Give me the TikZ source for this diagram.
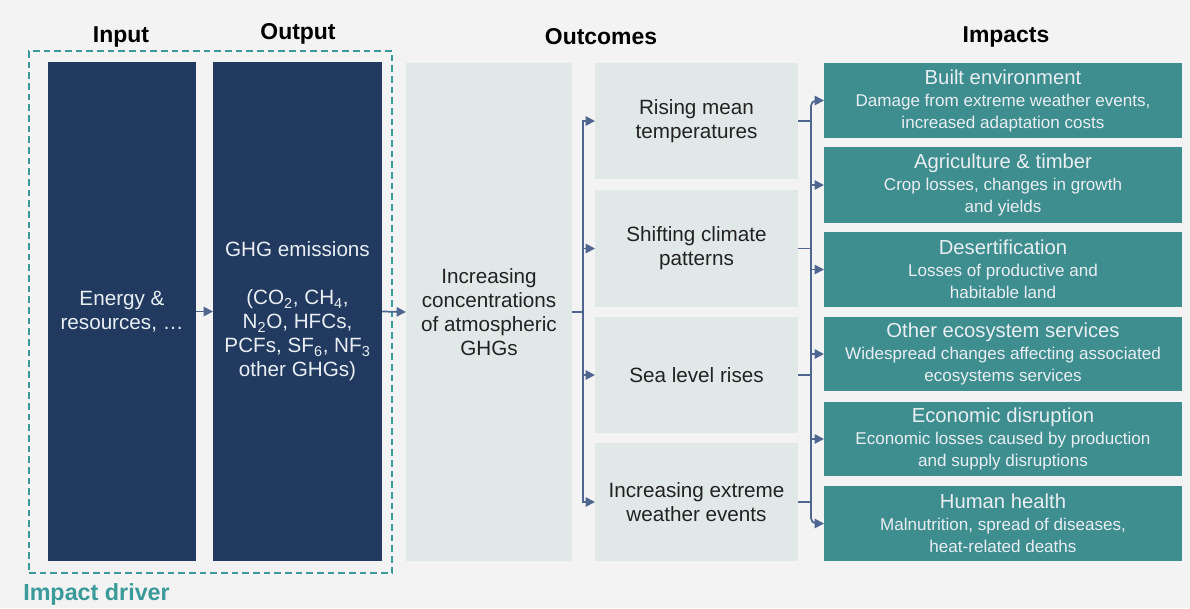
\documentclass[tikz,border=0pt]{standalone}
\usepackage{fontspec}
\setmainfont{Liberation Sans}
\usetikzlibrary{arrows.meta}
\definecolor{bgc}{HTML}{F3F3F3}
\definecolor{navy}{HTML}{223A60}
\definecolor{tealbox}{HTML}{3F8E8F}
\definecolor{lightbox}{HTML}{E0E9E8}
\definecolor{dashc}{HTML}{3A9A9A}
\definecolor{arrc}{HTML}{4F6690}
\definecolor{txtdark}{HTML}{222222}
\definecolor{txtlight}{HTML}{E8EEF2}
\newcommand\imptitle{\fontsize{15.2}{17}\selectfont}
\begin{document}
\begin{tikzpicture}[x=0.75pt,y=-0.75pt,
  wh/.style 2 args={minimum width=#1*0.75pt, minimum height=#2*0.75pt, inner sep=0pt, outer sep=0pt},
  body/.style={font=\fontsize{15.5}{18}\selectfont, align=center},
  navybox/.style={fill=navy, text=txtlight, body},
  lbox/.style={fill=lightbox, text=txtdark, body},
  ibox/.style={fill=tealbox, text=txtlight, align=center, font=\fontsize{12.8}{16.5}\selectfont},
  head/.style={font=\fontsize{17.2}{19}\selectfont\bfseries, text=black},
  line/.style={draw=arrc, line width=1.3pt},
  arr/.style={line, -{Triangle[length=7pt,width=7pt]}}
]
\fill[bgc] (0,0) rectangle (1190,608);
\useasboundingbox (0,0) rectangle (1190,608);

% headings
\node[head] (hin) at (121,37) {Input};
\node[head] (hout) at (298,34) {Output};
\node[head] (hoc) at (601,37) {Outcomes};
\node[head] (him) at (1006,37) {Impacts};

% impact driver
\node[draw=dashc, line width=1.3pt, dash pattern=on 5pt off 3pt, wh={363}{522}, anchor=north west] (drv) at (29,51) {};
\node[text=dashc, font=\fontsize{17.5}{20}\selectfont\bfseries, anchor=west, inner sep=0pt] (drvl) at (23,594) {Impact driver};

% input / output
\node[navybox, wh={148}{499}, anchor=north west] (in) at (48,62) {Energy \&\\resources, \dots};
\node[navybox, wh={169}{499}, anchor=north west] (out) at (213,62) {GHG emissions\\[18pt](CO\textsubscript{2}, CH\textsubscript{4},\\N\textsubscript{2}O, HFCs,\\PCFs, SF\textsubscript{6}, NF\textsubscript{3}\\other GHGs)};

% GHG concentration
\node[lbox, wh={166}{498}, anchor=north west] (ghg) at (406,63) {Increasing\\concentrations\\of atmospheric\\GHGs};

% outcomes
\node[lbox, wh={203}{116}, anchor=north west] (o1) at (595,63) {Rising mean\\temperatures};
\node[lbox, wh={203}{117}, anchor=north west] (o2) at (595,190) {Shifting climate\\patterns};
\node[lbox, wh={203}{116}, anchor=north west] (o3) at (595,317) {Sea level rises};
\node[lbox, wh={203}{118}, anchor=north west] (o4) at (595,443) {Increasing extreme\\weather events};

% impacts
\node[ibox, wh={358}{75}, anchor=north west] (i1) at (824,63) {{\imptitle Built environment}\\Damage from extreme weather events,\\increased adaptation costs};
\node[ibox, wh={358}{76}, anchor=north west] (i2) at (824,147) {{\imptitle Agriculture \& timber}\\Crop losses, changes in growth\\and yields};
\node[ibox, wh={358}{75}, anchor=north west] (i3) at (824,232) {{\imptitle Desertification}\\Losses of productive and\\habitable land};
\node[ibox, wh={358}{74}, anchor=north west] (i4) at (824,317) {{\imptitle Other ecosystem services}\\Widespread changes affecting associated\\ecosystems services};
\node[ibox, wh={358}{74}, anchor=north west] (i5) at (824,402) {{\imptitle Economic disruption}\\Economic losses caused by production\\and supply disruptions};
\node[ibox, wh={358}{75}, anchor=north west] (i6) at (824,486) {{\imptitle Human health}\\Malnutrition, spread of diseases,\\heat-related deaths};

% connectors
\draw[arr] (in.east) -- (out.west);
\draw[arr] (out.east) -- (ghg.west);

\coordinate (tl) at (583,312);
\draw[line] (ghg.east) -- (tl);
\draw[arr] (tl) |- (o1.west);
\draw[arr] (tl) |- (o2.west);
\draw[arr] (tl) |- (o3.west);
\draw[arr] (tl) |- (o4.west);

\coordinate (tr) at (811,0);
\draw[line] (o1.east) -- (o1.east -| tr);
\draw[line] (o2.east) -- (o2.east -| tr);
\draw[line] (o3.east) -- (o3.east -| tr);
\draw[line] (o4.east) -- (o4.east -| tr);
\draw[line] (tr |- o1.east) -- (tr |- o4.east);
\draw[arr, rounded corners=4pt] (tr |- o1.east) |- (i1.west);
\draw[arr] (tr |- i2.west) -- (i2.west);
\draw[arr] (tr |- i3.west) -- (i3.west);
\draw[arr] (tr |- i4.west) -- (i4.west);
\draw[arr] (tr |- i5.west) -- (i5.west);
\draw[arr, rounded corners=4pt] (tr |- o4.east) |- (i6.west);
\end{tikzpicture}
\end{document}
